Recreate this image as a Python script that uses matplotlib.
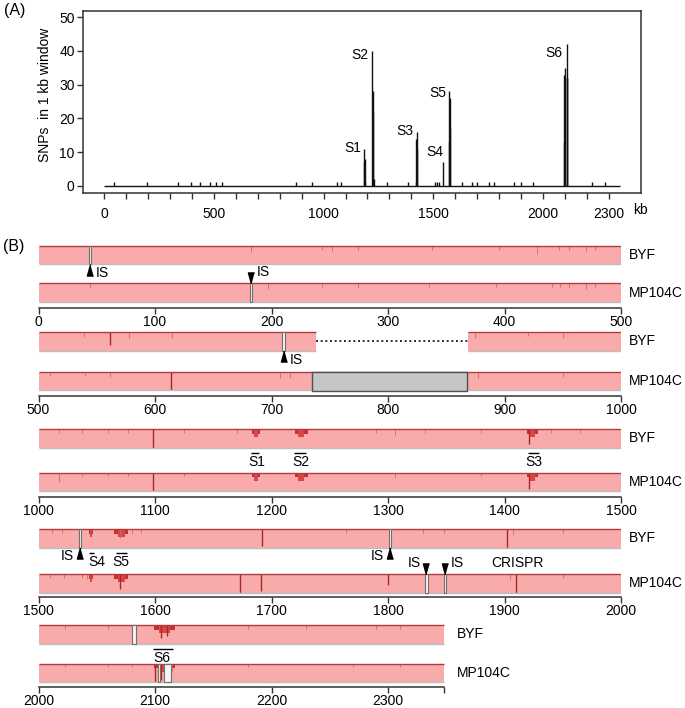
import matplotlib
matplotlib.use("Agg")
import matplotlib.pyplot as plt
from matplotlib.patches import Rectangle

plt.rcParams['font.family'] = ['Liberation Sans', 'DejaVu Sans']
FS = 10

# ---------------- Panel A data ----------------
snp_pos = [46, 198, 335, 397, 438, 481, 509, 539, 874, 947, 1059, 1079,
           1183, 1185, 1187, 1189,
           1222, 1224, 1226, 1228,
           1291, 1385,
           1421, 1423, 1424, 1426,
           1506, 1515, 1524,
           1545,
           1571, 1572, 1574, 1575,
           1631, 1675, 1697, 1754, 1775, 1866, 1901, 1953,
           2096, 2097, 2098, 2108, 2109, 2110,
           2224, 2284]
snp_cnt = [1, 1, 1, 1, 1, 1, 1, 1, 1, 1, 1, 1,
           7, 11, 8, 1,
           40, 22, 28, 2,
           1, 1,
           1, 14, 16, 11,
           1, 1, 1,
           7,
           13, 28, 26, 17,
           1, 1, 1, 1, 1, 1, 1, 1,
           13, 33, 35, 32, 42, 32,
           1, 1]
genome_len = 2348
a_names = ['S1', 'S2', 'S3', 'S4', 'S5', 'S6']
a_label_x = [1171, 1204, 1408, 1547, 1560, 2087]
a_label_y = [11.2, 38.8, 16.2, 10.0, 27.5, 39.4]
a_xticklabels = {0: '0', 500: '500', 1000: '1000', 1500: '1500', 2000: '2000', 2300: '2300'}

# ---------------- Panel B data ----------------
row_start = [0, 500, 1000, 1500, 2000]

byf_snp_kb = [182, 243, 252, 274, 338, 395, 428, 447, 455, 470, 478,
              539, 561, 578, 615, 875, 920, 950,
              1018, 1037, 1060, 1077, 1098, 1125, 1170, 1290, 1306, 1332, 1380, 1421, 1440, 1465,
              1512, 1520, 1570, 1580, 1588, 1692, 1764, 1830, 1848, 1902, 1907, 1950,
              2023, 2060, 2105, 2110, 2180, 2230, 2290, 2310]
byf_snp_depth = [.3, .2, .25, .2, .2, .2, .45, .2, .2, .25, .2,
                 .25, .7, .3, .35, .3, .2, .3,
                 .2, .2, .2, .2, 1.0, .2, .2, .2, .35, .2, .2, .8, .2, .2,
                 .2, .2, .5, .25, .2, .9, .2, .2, .2, 1.0, .3, .2,
                 .2, .2, .7, .6, .2, .2, .2, .2]
mp_snp_kb = [44, 197, 243, 274, 335, 393, 441, 448, 455, 470, 478,
             510, 540, 561, 614, 707, 716, 877, 950,
             1018, 1037, 1060, 1077, 1098, 1125, 1306, 1380, 1421,
             1510, 1522, 1537, 1542, 1570, 1673, 1691, 1800, 1848, 1905, 1910, 1950,
             2023, 2060, 2080, 2100, 2105, 2115, 2180, 2270, 2310]
mp_snp_depth = [.25, .3, .2, .25, .2, .2, .2, .2, .25, .3, .2,
                .2, .2, .25, 1.0, .3, .3, .3, .25,
                .5, .2, .2, .2, 1.0, .2, .3, .2, .9,
                .2, .2, .2, .25, .8, 1.0, .9, .6, .2, .3, 1.0, .2,
                .2, .2, .2, 1.0, .9, .4, .2, .2, .2]

clu_start = [1183, 1220, 1419, 1543, 1565, 2099]
clu_end = [1190, 1231, 1429, 1547, 1577, 2117]

byf_gap_start = [43, 709.4, 1534.8, 1800.8, 2080]
byf_gap_end = [45, 711.4, 1536.8, 1802.8, 2083.5]
mp_gap_start = [181.6, 1832, 1847.8, 2102.5, 2108]
mp_gap_end = [183.6, 1834, 1849.8, 2104.5, 2114]

byf_is_kb = [44, 710.4, 1535.8, 1801.8]
byf_is_side = ['r', 'r', 'l', 'l']
mp_is_kb = [182.6, 1833, 1848.8]
mp_is_side = ['r', 'l', 'r']

byf_deletion = (738.6, 868.7)
mp_insertion = (734.8, 868.0)

b_names = ['S1', 'S2', 'S3', 'S4', 'S5', 'S6']
b_text_kb = [1187, 1225, 1424.8, 1549.7, 1571, 2106]
b_bar_start = [1182, 1219.4, 1420, 1543, 1566.5, 2098]
b_bar_end = [1189, 1230, 1430, 1548, 1576, 2115.5]
crispr_kb = 1910.8

# ---------------- layout ----------------
W, H = 685, 708
fig = plt.figure(figsize=(W / 100, H / 100), dpi=100)


def add_ax(x0, y0, x1, y1):
    return fig.add_axes([x0 / W, 1 - y1 / H, (x1 - x0) / W, (y1 - y0) / H])


# ---------- Panel A ----------
pxA = (609 - 104) / 2300.0
pyA = (185.7 - 17.3) / 50.0
axA = add_ax(83, 10.7, 641, 192.7)
axA.set_xlim(-(104 - 83) / pxA, 2300 + (641 - 609) / pxA)
axA.set_ylim(-(192.7 - 185.7) / pyA, 50 + (17.3 - 10.7) / pyA)
axA.hlines(0, 0, genome_len, color='#111111', lw=1.0)
axA.vlines(snp_pos, 0, snp_cnt, color='#111111', lw=1.0)
for sp in axA.spines.values():
    sp.set_color('#333333')
    sp.set_linewidth(1.1)
axA.set_yticks([0, 10, 20, 30, 40, 50])
axA.set_xticks(list(range(0, 2301, 100)))
axA.set_xticklabels([a_xticklabels.get(v, '') for v in range(0, 2301, 100)])
axA.tick_params(axis='y', direction='out', length=4, width=1, pad=2, labelsize=FS, color='#333333')
axA.tick_params(axis='x', direction='out', length=4, width=1, pad=6, labelsize=FS, color='#333333')
for n, x, y in zip(a_names, a_label_x, a_label_y):
    axA.text(x, y, n, ha='right', va='center', fontsize=FS)
fig.text(640 / W, 1 - 210 / H, 'kb', ha='center', va='center', fontsize=FS)
fig.text(45 / W, 1 - 95 / H, 'SNPs  in 1 kb window', rotation=90, ha='center', va='center', fontsize=FS)
fig.text(15 / W, 1 - 10 / H, '(A)', ha='center', va='center', fontsize=11.5)
fig.text(14 / W, 1 - 247 / H, '(B)', ha='center', va='center', fontsize=11.5)

# ---------- Panel B ----------
byf_top = [246, 332, 429, 529, 625]
mp_top = [283.5, 372, 472.5, 574, 663.5]
axis_y = [308, 396, 497, 596.5, 686.5]
bh = 18.5
pink = '#F9ABAB'
topc = '#B33A3A'
botc = '#BDBDBD'
px_per_kb = (621 - 38.5) / 500.0


def in_row(kb, s, e):
    return s <= kb <= e


def draw_bar(ax, segs, top):
    for a, b in segs:
        ax.add_patch(Rectangle((a, top), b - a, bh, facecolor=pink, edgecolor='none', zorder=1))
        ax.hlines(top, a, b, color=topc, lw=1.0, zorder=3)
        ax.hlines(top + bh, a, b, color=botc, lw=1.0, zorder=3)


def draw_dips(ax, kbs, depths, top, s, e):
    for k, d in zip(kbs, depths):
        if in_row(k, s, e):
            if d >= 0.6:
                ax.vlines(k, top, top + d * bh, color='#A82828', lw=1.0, zorder=2)
            else:
                ax.vlines(k, top, top + d * bh, color='#DC6464', lw=0.6, zorder=2)


def draw_clusters(ax, top, s, e):
    for a, b in zip(clu_start, clu_end):
        if in_row(a, s, e):
            ax.add_patch(Rectangle((a, top), b - a, 0.25 * bh, facecolor='#C83030',
                                   edgecolor='none', zorder=2))
            ax.add_patch(Rectangle((a + 0.25 * (b - a), top), 0.5 * (b - a), 0.45 * bh,
                                   facecolor='#D44848', edgecolor='none', zorder=2))


def draw_gaps(ax, starts, ends, top, s, e):
    for a, b in zip(starts, ends):
        if in_row(a, s, e):
            ax.add_patch(Rectangle((a, top), b - a, bh, facecolor='#F4F4F4',
                                   edgecolor='#707070', lw=0.8, zorder=4))


up_tri = [(0, 1), (-0.55, -1), (0.55, -1)]
down_tri = [(0, -1), (-0.55, 1), (0.55, 1)]
off_kb = 6 / px_per_kb

for r, s in enumerate(row_start):
    e = min(s + 500, genome_len)
    bt, mt, ay = byf_top[r], mp_top[r], axis_y[r]
    ax = add_ax(38.5, bt - 16, 621, ay)
    ax.set_xlim(s, s + 500)
    ax.set_ylim(ay, bt - 16)
    for k in ['top', 'left', 'right']:
        ax.spines[k].set_visible(False)
    ax.spines['bottom'].set_bounds(s, e)
    ax.spines['bottom'].set_color('#333333')
    ax.spines['bottom'].set_linewidth(1.1)
    ax.set_yticks([])
    ticks = list(range(s, e + 1, 100))
    labels = [str(t) for t in ticks]
    if e % 100 != 0:
        ticks.append(e)
        labels.append('')
    ax.set_xticks(ticks)
    ax.set_xticklabels(labels)
    ax.tick_params(axis='x', direction='out', length=4, width=1, pad=1.2, labelsize=FS, color='#333333')
    ax.patch.set_alpha(0)

    # BYF bar
    if in_row(byf_deletion[0], s, e):
        segs = [(s, byf_deletion[0]), (byf_deletion[1], e)]
        ax.hlines(bt + bh / 2, byf_deletion[0], byf_deletion[1], color='#111111',
                  lw=1.2, linestyles=(0, (1.2, 1.6)), zorder=3)
    else:
        segs = [(s, e)]
    draw_bar(ax, segs, bt)
    draw_clusters(ax, bt, s, e)
    draw_dips(ax, byf_snp_kb, byf_snp_depth, bt, s, e)
    draw_gaps(ax, byf_gap_start, byf_gap_end, bt, s, e)

    # MP104C bar
    draw_bar(ax, [(s, e)], mt)
    draw_clusters(ax, mt, s, e)
    draw_dips(ax, mp_snp_kb, mp_snp_depth, mt, s, e)
    draw_gaps(ax, mp_gap_start, mp_gap_end, mt, s, e)
    if in_row(mp_insertion[0], s, e):
        ax.add_patch(Rectangle((mp_insertion[0], mt), mp_insertion[1] - mp_insertion[0], bh,
                               facecolor='#C6C6C6', edgecolor='#505050', lw=1.0, zorder=5))

    # IS arrows
    for k, side in zip(byf_is_kb, byf_is_side):
        if in_row(k, s, e):
            ax.plot([k], [bt + bh + 5.5], marker=up_tri, ms=8, color='black', zorder=6, clip_on=False)
            ty = bt + bh + 9
            if side == 'r':
                ax.text(k + off_kb, ty, 'IS', ha='left', va='center', fontsize=FS)
            else:
                ax.text(k - off_kb, ty, 'IS', ha='right', va='center', fontsize=FS)
    for k, side in zip(mp_is_kb, mp_is_side):
        if in_row(k, s, e):
            ax.plot([k], [mt - 5.5], marker=down_tri, ms=8, color='black', zorder=6, clip_on=False)
            ty = mt - 11
            if side == 'r':
                ax.text(k + off_kb, ty, 'IS', ha='left', va='center', fontsize=FS)
            else:
                ax.text(k - off_kb, ty, 'IS', ha='right', va='center', fontsize=FS)

    # S labels with overbars
    for n, tk, a, b in zip(b_names, b_text_kb, b_bar_start, b_bar_end):
        if in_row(tk, s, e):
            ax.text(tk, bt + bh + 14.5, n, ha='center', va='center', fontsize=FS)
            ax.hlines(bt + bh + 5, a, b, color='black', lw=1.0)
    if in_row(crispr_kb, s, e):
        ax.text(crispr_kb, mt - 11, 'CRISPR', ha='center', va='center', fontsize=FS)

    # strain labels
    lx = s + 507 if e == s + 500 else e + 11
    ax.text(lx, bt + bh / 2, 'BYF', ha='left', va='center', fontsize=FS, clip_on=False)
    ax.text(lx, mt + bh / 2, 'MP104C', ha='left', va='center', fontsize=FS, clip_on=False)

fig.savefig('out.png', dpi=100)
